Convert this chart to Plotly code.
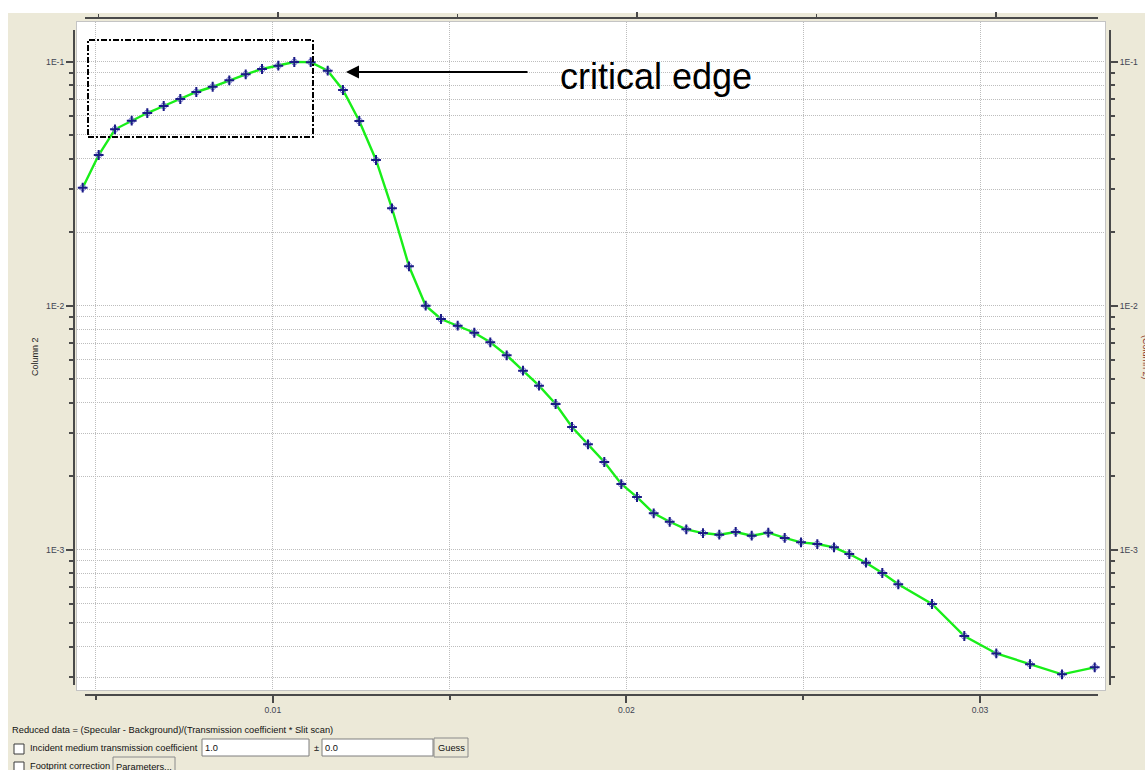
import plotly.graph_objects as go

W, H = 1145, 770

# Scattering vector (Q) and reduced reflectivity
q = [0.004624, 0.005076, 0.005537, 0.006010, 0.006451, 0.006915, 0.007384, 0.007837,
     0.008300, 0.008770, 0.009234, 0.009695, 0.010156, 0.010608, 0.011072, 0.011553,
     0.011985, 0.012446, 0.012919, 0.013371, 0.013852, 0.014324, 0.014757, 0.015229,
     0.015699, 0.016151, 0.016615, 0.017076, 0.017529, 0.017999, 0.018462, 0.018914,
     0.019375, 0.019856, 0.020300, 0.020772, 0.021225, 0.021694, 0.022166, 0.022627,
     0.023091, 0.023544, 0.024013, 0.024477, 0.024938, 0.025399, 0.025871, 0.026304,
     0.026776, 0.027237, 0.027689, 0.028643, 0.029556, 0.030461, 0.031414, 0.032319,
     0.033244]
refl = [0.03040, 0.04138, 0.05274, 0.05720, 0.06149, 0.06571, 0.07019, 0.07499,
        0.07880, 0.08375, 0.08862, 0.09317, 0.09611, 0.09953, 0.09940, 0.09170,
        0.07642, 0.05704, 0.03948, 0.02503, 0.01448, 0.009981, 0.008805, 0.008266,
        0.007734, 0.007066, 0.006251, 0.005404, 0.004692, 0.003948, 0.003177, 0.002698,
        0.002284, 0.001855, 0.001641, 0.001407, 0.001299, 0.001210, 0.001168, 0.001150,
        0.001180, 0.001139, 0.001172, 0.001115, 0.001070, 0.001053, 0.001021, 0.000958,
        0.000883, 0.000801, 0.000720, 0.000598, 0.000442, 0.000375, 0.000339, 0.000308,
        0.000329]

x_major = [0.01, 0.02, 0.03]
x_major_text = ["0.01", "0.02", "0.03"]
x_minor = [0.005, 0.015, 0.025]
y_major = [1e-3, 1e-2, 1e-1]
y_major_text = ["1E-3", "1E-2", "1E-1"]
y_minor = [m * 10.0 ** e for e in (-4, -3, -2) for m in range(2, 10)]
y_minor = [v for v in y_minor if v > 2.5e-4]
y_grid = y_major + y_minor

FONT = "Liberation Sans, Arial, sans-serif"
AXC = "#4a4a4a"
LABC = "#3e4452"


def fx(p):
    return p / W


def fy(p):
    return 1 - p / H


fig = go.Figure()

fig.add_trace(go.Scatter(
    x=q, y=refl, mode="lines",
    line=dict(color="#19ee19", width=2.4),
    hoverinfo="skip", showlegend=False))
fig.add_trace(go.Scatter(
    x=q, y=refl, mode="markers",
    marker=dict(symbol="circle-open", size=6,
                color="#8080d4", line=dict(width=1, color="#8080d4")),
    hoverinfo="skip", showlegend=False))
fig.add_trace(go.Scatter(
    x=q, y=refl, mode="markers",
    marker=dict(symbol="cross-thin-open", size=7,
                color="#1b1b86", line=dict(width=2, color="#1b1b86")),
    showlegend=False))

# empty traces that carry the framing axes
fig.add_trace(go.Scatter(x=[], y=[], xaxis="x3", yaxis="y3", showlegend=False))
fig.add_trace(go.Scatter(x=[], y=[], xaxis="x4", yaxis="y4", showlegend=False))

grid = dict(showgrid=True, gridcolor="#bdbdbd", griddash="1px,1px", gridwidth=1)
tickfont = dict(family=FONT, size=8.6, color=LABC)

fig.update_layout(
    width=W, height=H, autosize=False,
    margin=dict(l=0, r=0, t=0, b=0),
    paper_bgcolor="white", plot_bgcolor="rgba(0,0,0,0)",
    showlegend=False,
    font=dict(family=FONT, size=8, color=LABC),
    # plotting area: grid only
    xaxis=dict(domain=[fx(77), fx(1105)], range=[0.004463, 0.033535],
               tick0=0, dtick=0.005, showticklabels=False, ticks="",
               zeroline=False, showline=True, mirror=True,
               linecolor="#c4c4c4", linewidth=1, **grid),
    yaxis=dict(domain=[fy(690), fy(22)], type="log", range=[-3.5758, -0.8381],
               tickmode="array", tickvals=y_grid, showticklabels=False, ticks="",
               zeroline=False, showline=True, mirror=True,
               linecolor="#c4c4c4", linewidth=1, **grid),
    # bottom Q axis
    xaxis3=dict(domain=[fx(85), fx(1098)], range=[0.004689, 0.033337],
                anchor="free", position=fy(695), side="bottom",
                showline=True, linecolor=AXC, linewidth=2,
                showgrid=False, zeroline=False,
                tickmode="array", tickvals=x_major, ticktext=x_major_text,
                ticks="outside", ticklen=7, tickwidth=1.5, tickcolor=AXC,
                minor=dict(tickmode="array", tickvals=x_minor, ticks="outside",
                           ticklen=4, tickwidth=1.5, tickcolor=AXC, showgrid=False),
                tickfont=tickfont),
    # left reflectivity axis
    yaxis3=dict(domain=[fy(685), fy(30)], type="log", range=[-3.5553, -0.8709],
                anchor="free", position=fx(74), side="left",
                showline=True, linecolor=AXC, linewidth=2,
                showgrid=False, zeroline=False,
                tickmode="array", tickvals=y_major, ticktext=y_major_text,
                ticks="outside", ticklen=7, tickwidth=1.5, tickcolor=AXC,
                minor=dict(tickmode="array", tickvals=y_minor, ticks="outside",
                           ticklen=4, tickwidth=1.5, tickcolor=AXC, showgrid=False),
                tickfont=tickfont),
    # top axis (ticks only)
    xaxis4=dict(domain=[fx(85), fx(1098)], range=[0.4624, 3.284],
                anchor="free", position=fy(18), side="top",
                showline=True, linecolor=AXC, linewidth=1.5,
                showgrid=False, zeroline=False, showticklabels=False,
                tickmode="array", tickvals=[1, 2, 3],
                ticks="outside", ticklen=5, tickwidth=1.5, tickcolor=AXC,
                minor=dict(tickmode="array", tickvals=[0.5, 1.5, 2.5], ticks="outside",
                           ticklen=3, tickwidth=1, tickcolor=AXC, showgrid=False)),
    # right reflectivity axis
    yaxis4=dict(domain=[fy(685), fy(30)], type="log", range=[-3.5553, -0.8709],
                anchor="free", position=fx(1110), side="right",
                showline=True, linecolor=AXC, linewidth=2,
                showgrid=False, zeroline=False,
                tickmode="array", tickvals=y_major, ticktext=y_major_text,
                ticks="outside", ticklen=7, tickwidth=1.5, tickcolor=AXC,
                minor=dict(tickmode="array", tickvals=y_minor, ticks="outside",
                           ticklen=4, tickwidth=1.5, tickcolor=AXC, showgrid=False),
                tickfont=tickfont),
)

shapes = []
# window background and white plotting panel
shapes.append(dict(type="rect", xref="paper", yref="paper", layer="below",
                   x0=fx(8), x1=1, y0=0, y1=fy(13),
                   fillcolor="#ece9d8", line=dict(width=0)))
shapes.append(dict(type="rect", xref="paper", yref="paper", layer="below",
                   x0=fx(77), x1=fx(1105), y0=fy(690), y1=fy(22),
                   fillcolor="white", line=dict(width=0)))
# highlight box around the plateau region
shapes.append(dict(type="rect", xref="paper", yref="paper",
                   x0=fx(88), x1=fx(313), y0=fy(137), y1=fy(40),
                   line=dict(color="black", width=2, dash="6px,2px,2px,2px")))


def box(x0, y0, x1, y1, fill="white", edge="#7f7f7f"):
    shapes.append(dict(type="rect", xref="paper", yref="paper",
                       x0=fx(x0), x1=fx(x1), y0=fy(y1), y1=fy(y0),
                       fillcolor=fill, line=dict(color=edge, width=1)))


# form controls below the chart
box(14, 744, 24, 754, edge="#3b3b3b")
box(202, 739, 309, 756)
box(322, 739, 433, 756)
box(434, 738, 468, 757, fill="#ece9d8", edge="#8a8a8a")
box(14, 762, 24, 772, edge="#3b3b3b")
box(113, 757, 175, 776, fill="#ece9d8", edge="#8a8a8a")
fig.update_layout(shapes=shapes)

ann = []


def label(text, x, y, size=9.3, anchor="left", color="#111111", angle=0):
    ann.append(dict(text=text, xref="paper", yref="paper", x=fx(x), y=fy(y),
                    xanchor=anchor, yanchor="middle", showarrow=False,
                    textangle=angle, font=dict(family=FONT, size=size, color=color)))


label("critical edge", 558, 77, size=36, color="black")
ann.append(dict(text="", xref="paper", yref="paper", x=fx(346), y=fy(72),
                ax=183, ay=0, showarrow=True, arrowhead=2, arrowsize=1.3,
                arrowwidth=2, arrowcolor="black", standoff=0))
label("Column 2", 35, 357, size=9, anchor="center", color="#222222", angle=-90)
label("(Column 2)", 1146, 357, size=9, anchor="center", color="#8b3a2a", angle=90)
label("Reduced data = (Specular - Background)/(Transmission coefficient * Slit scan)", 10, 730)
label("Incident medium transmission coefficient", 28, 748)
label("1.0", 203, 748)
label("±", 316, 748, anchor="center")
label("0.0", 323, 748)
label("Guess", 451, 748, anchor="center")
label("Footprint correction", 28, 766)
label("Parameters...", 144, 767, anchor="center")
fig.update_layout(annotations=ann)

fig.write_html("out.html")
